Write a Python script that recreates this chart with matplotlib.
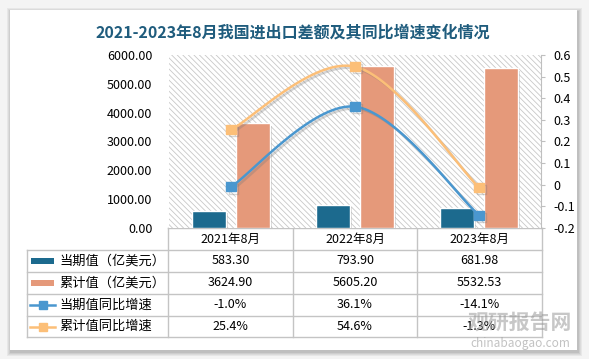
# coding: utf-8

import numpy as np
import matplotlib
matplotlib.use("Agg")
import matplotlib.pyplot as plt
from matplotlib.patches import Rectangle
import matplotlib.patheffects as pe

plt.rcParams['font.family'] = ['Noto Sans CJK SC', 'DejaVu Sans']
plt.rcParams['hatch.linewidth'] = 0.6

# data
categories = ["2021年8月", "2022年8月", "2023年8月"]
current_value = [583.30, 793.90, 681.98]        # 当期值（亿美元）
cumulative_value = [3624.90, 5605.20, 5532.53]  # 累计值（亿美元）
current_yoy = [-0.010, 0.361, -0.141]           # 当期值同比增速
cumulative_yoy = [0.254, 0.546, -0.013]         # 累计值同比增速

series_names = ["当期值（亿美元）", "累计值（亿美元）", "当期值同比增速", "累计值同比增速"]
title = "2021-2023年8月我国进出口差额及其同比增速变化情况"

c_cur = "#1c6a8e"
c_cum = "#e5997a"
c_cur_line = "#4a97cf"
c_cum_line = "#fcbf78"

W, H = 589, 359


def smooth(xs, ys, n=50):
    """Excel-like smoothed line (Catmull-Rom as cubic bezier)."""
    pts = np.column_stack([xs, ys]).astype(float)
    out = []
    for i in range(len(pts) - 1):
        p0 = pts[max(i - 1, 0)]
        p1 = pts[i]
        p2 = pts[i + 1]
        p3 = pts[min(i + 2, len(pts) - 1)]
        c1 = p1 + (p2 - p0) / 6
        c2 = p2 - (p3 - p1) / 6
        t = np.linspace(0, 1, n)[:, None]
        seg = (1 - t) ** 3 * p1 + 3 * (1 - t) ** 2 * t * c1 + 3 * (1 - t) * t ** 2 * c2 + t ** 3 * p2
        out.append(seg)
    out = np.vstack(out)
    return out[:, 0], out[:, 1]


fig = plt.figure(figsize=(W / 100, H / 100), dpi=100)
fig.set_facecolor("#f4f4f4")

# background / table layer in pixel coordinates
bg = fig.add_axes([0, 0, 1, 1], zorder=0)
bg.set_xlim(0, W)
bg.set_ylim(H, 0)
bg.axis("off")

# card with soft shadow
for k, a in enumerate([0.05, 0.05, 0.06, 0.07]):
    d = 4 - k
    bg.add_patch(Rectangle((10 - d + 1, 10 - d + 2), 567 + 2 * d, 340 + 2 * d,
                           facecolor="#000000", alpha=a, lw=0))
bg.add_patch(Rectangle((10, 10), 567, 340, facecolor="white", lw=0))

bg.text(293, 33, title, ha="center", va="center", fontsize=11.5,
        fontweight="bold", color="#1f5c7d")

# table
col_x = [168, 293, 417, 542]
row_y = [228, 250, 272, 294, 316, 337]
gc = "#c4c4c4"
bg.plot([col_x[0], col_x[-1]], [row_y[0], row_y[0]], color=gc, lw=1)
for y in row_y[1:]:
    bg.plot([27, col_x[-1]], [y, y], color=gc, lw=1)
bg.plot([27, 27], [row_y[1], row_y[-1]], color=gc, lw=1)
for xx in col_x:
    bg.plot([xx, xx], [row_y[0], row_y[-1]], color=gc, lw=1)

col_c = [(col_x[i] + col_x[i + 1]) / 2 for i in range(3)]
row_c = [(row_y[i] + row_y[i + 1]) / 2 for i in range(5)]
for i, cat in enumerate(categories):
    bg.text(col_c[i], row_c[0], cat, ha="center", va="center", fontsize=9)

rows = [
    [f"{v:.2f}" for v in current_value],
    [f"{v:.2f}" for v in cumulative_value],
    [f"{v * 100:.1f}%" for v in current_yoy],
    [f"{v * 100:.1f}%" for v in cumulative_yoy],
]
for r, vals in enumerate(rows):
    for i, s in enumerate(vals):
        bg.text(col_c[i], row_c[r + 1], s, ha="center", va="center", fontsize=9)
    bg.text(59, row_c[r + 1], series_names[r], ha="left", va="center", fontsize=9.5)

# legend keys
bg.add_patch(Rectangle((31, row_c[1] - 3), 23, 6, facecolor=c_cur, lw=0))
bg.add_patch(Rectangle((31, row_c[2] - 3), 23, 6, facecolor=c_cum, lw=0))
bg.plot([30, 42.5, 55], [row_c[3]] * 3, color=c_cur_line, lw=1.8,
        marker="s", markevery=[1], markersize=6)
bg.plot([30, 42.5, 55], [row_c[4]] * 3, color=c_cum_line, lw=1.8,
        marker="s", markevery=[1], markersize=6)

# watermark
bg.text(520, 322, "观研报告网", ha="center", va="center", fontsize=15,
        fontweight="bold", color="#9a9a9a", alpha=0.55)
bg.text(520, 343, "chinabaogao.com", ha="center", va="center", fontsize=8.5,
        color="#9a9a9a", alpha=0.6)

# main chart
ax = fig.add_axes([169 / W, 1 - 228 / H, 372 / W, 173 / H], zorder=1)
ax.patch.set_alpha(0)
ax.add_patch(Rectangle((0, 0), 1, 1, transform=ax.transAxes, facecolor="white",
                       edgecolor="#c8c8c8", hatch="\\\\\\\\\\\\", lw=0, zorder=0))

x = np.arange(len(categories))
shadow = [pe.withSimplePatchShadow(offset=(1.5, -1.5), shadow_rgbFace="#888888", alpha=0.35)]
ax.bar(x - 0.178, current_value, width=0.278, color=c_cur, edgecolor="white",
       lw=1, zorder=2, path_effects=shadow)
ax.bar(x + 0.178, cumulative_value, width=0.278, color=c_cum, edgecolor="white",
       lw=1, zorder=2, path_effects=shadow)
ax.set_xlim(-0.5, 2.5)
ax.set_ylim(0, 6000)
ax.set_yticks(np.arange(0, 6001, 1000))
ax.set_yticklabels([f"{v:.2f}" for v in np.arange(0, 6001, 1000)])
ax.tick_params(axis="y", length=0, pad=12, labelsize=9)
ax.set_xticks([])
for s in ax.spines.values():
    s.set_visible(False)

ax2 = ax.twinx()
ax2.set_ylim(-0.2, 0.6)
yt = np.round(np.arange(-0.2, 0.61, 0.1), 1)
ax2.set_yticks(yt)
ax2.set_yticklabels([f"{v:g}" for v in yt])
ax2.tick_params(axis="y", length=3, width=0.8, color="#bfbfbf", pad=6, labelsize=9)
for s in ["left", "top", "bottom"]:
    ax2.spines[s].set_visible(False)
ax2.spines["right"].set_color("#bfbfbf")

lshadow = [pe.SimpleLineShadow(offset=(1.5, -1.5), shadow_color="#777777", alpha=0.3),
           pe.Normal()]
for vals, col in [(current_yoy, c_cur_line), (cumulative_yoy, c_cum_line)]:
    sx, sy = smooth(x, vals)
    ax2.plot(sx, sy, color=col, lw=1.8, zorder=3, path_effects=lshadow)
    ax2.plot(x, vals, ls="none", marker="s", markersize=6.5, color=col, zorder=4,
             path_effects=lshadow)

fig.savefig("out.png", dpi=100, facecolor=fig.get_facecolor())
